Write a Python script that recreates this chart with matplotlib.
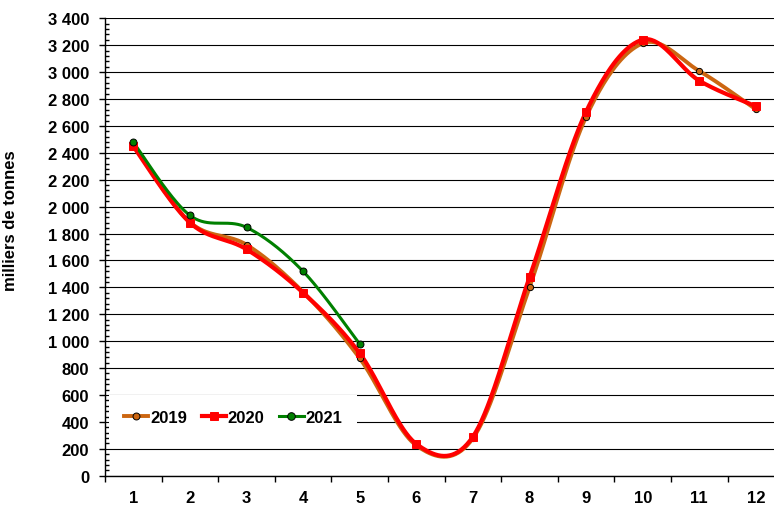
import numpy as np
import matplotlib
matplotlib.use("Agg")
import matplotlib.pyplot as plt
from matplotlib.ticker import MultipleLocator, FuncFormatter

plt.rcParams['font.family'] = ['Liberation Sans', 'DejaVu Sans']
plt.rcParams['font.weight'] = 'bold'

months = [1, 2, 3, 4, 5, 6, 7, 8, 9, 10, 11, 12]
month_labels = ["1", "2", "3", "4", "5", "6", "7", "8", "9", "10", "11", "12"]
y2019 = [2460, 1885, 1717, 1365, 873, 225, 278, 1400, 2668, 3214, 3008, 2723]
y2020 = [2448, 1881, 1683, 1360, 910, 236, 290, 1475, 2706, 3241, 2936, 2746]
months2021 = [1, 2, 3, 4, 5]
y2021 = [2478, 1935, 1846, 1519, 979]
series_names = ["2019", "2020", "2021"]


def smooth(xs, ys, n=40):
    """Excel-like smoothed line: Catmull-Rom Bezier between given points."""
    P = np.column_stack([xs, ys]).astype(float)
    m = len(P)
    out = []
    for i in range(m - 1):
        p0 = P[i - 1] if i > 0 else P[i]
        p1 = P[i]
        p2 = P[i + 1]
        p3 = P[i + 2] if i + 2 < m else P[i + 1]
        c1 = p1 + (p2 - p0) / 6.0
        c2 = p2 - (p3 - p1) / 6.0
        t = np.linspace(0, 1, n)[:, None]
        seg = ((1 - t) ** 3) * p1 + 3 * ((1 - t) ** 2) * t * c1 + 3 * (1 - t) * t ** 2 * c2 + t ** 3 * p2
        out.append(seg if i == 0 else seg[1:])
    pts = np.vstack(out)
    return pts[:, 0], pts[:, 1]


fig = plt.figure(figsize=(7.74, 5.06), dpi=100)
ax = fig.add_axes([105 / 774, 1 - 476.7 / 506, 679.2 / 774, 457.4 / 506])

c19 = '#CC6611'
c20 = '#FF0000'
c21 = '#008000'

styles = [
    (months, y2019, c19, 'o', 4.5, 'black', 2.8),
    (months, y2020, c20, 's', 5.5, c20, 3.0),
    (months2021, y2021, c21, 'o', 5.0, 'black', 2.2),
]
handles = []
for (xs, ys, col, mk, ms, mec, lw), name in zip(styles, series_names):
    sx, sy = smooth(xs, ys)
    ax.plot(sx, sy, color=col, lw=lw, solid_capstyle='round', zorder=3)
    ax.plot(xs, ys, ls='none', marker=mk, ms=ms, mfc=col, mec=mec, mew=0.7, zorder=4)
    h, = ax.plot([], [], color=col, lw=lw, marker=mk, ms=ms + 0.5, mfc=col, mec=mec, mew=0.7)
    handles.append(h)

ax.set_xlim(0.5, 12.5)
ax.set_ylim(0, 3400)

ax.yaxis.set_major_locator(MultipleLocator(200))
ax.yaxis.set_minor_locator(MultipleLocator(40))
ax.yaxis.set_major_formatter(FuncFormatter(lambda v, p: f"{int(v):,}".replace(",", " ")))
ax.grid(axis='y', which='major', color='black', lw=0.8, zorder=1)

ax.set_xticks(months)
ax.set_xticklabels(month_labels)
ax.set_xticks(np.arange(0.5, 13.0, 1.0), minor=True)
ax.tick_params(axis='x', which='major', length=0, pad=10.5, labelsize=12)
ax.tick_params(axis='x', which='minor', length=4.5, width=1, direction='out')
ax.tick_params(axis='y', which='major', length=4.5, width=1, direction='out', pad=7, labelsize=12)
ax.tick_params(axis='y', which='minor', length=3, width=1, direction='in')
for lab in ax.get_xticklabels() + ax.get_yticklabels():
    lab.set_fontweight('bold')

ax.spines['top'].set_visible(False)
ax.spines['right'].set_visible(False)
ax.spines['left'].set_linewidth(1.0)
ax.spines['bottom'].set_linewidth(1.0)

ax.set_ylabel("milliers de tonnes", fontsize=12, fontweight='bold')
ax.yaxis.set_label_coords(-0.128, 0.559)

leg = ax.legend(handles, series_names, loc='lower left', bbox_to_anchor=(0.006, 0.078),
                borderaxespad=0, ncol=3, frameon=True, fancybox=False,
                handlelength=1.45, handletextpad=0.1, columnspacing=0.9,
                borderpad=0.9, prop={'weight': 'bold', 'size': 12})
leg.get_frame().set_facecolor('white')
leg.get_frame().set_edgecolor('none')
leg.get_frame().set_alpha(1)
leg.set_zorder(2.5)

fig.savefig("out.png", dpi=100)
